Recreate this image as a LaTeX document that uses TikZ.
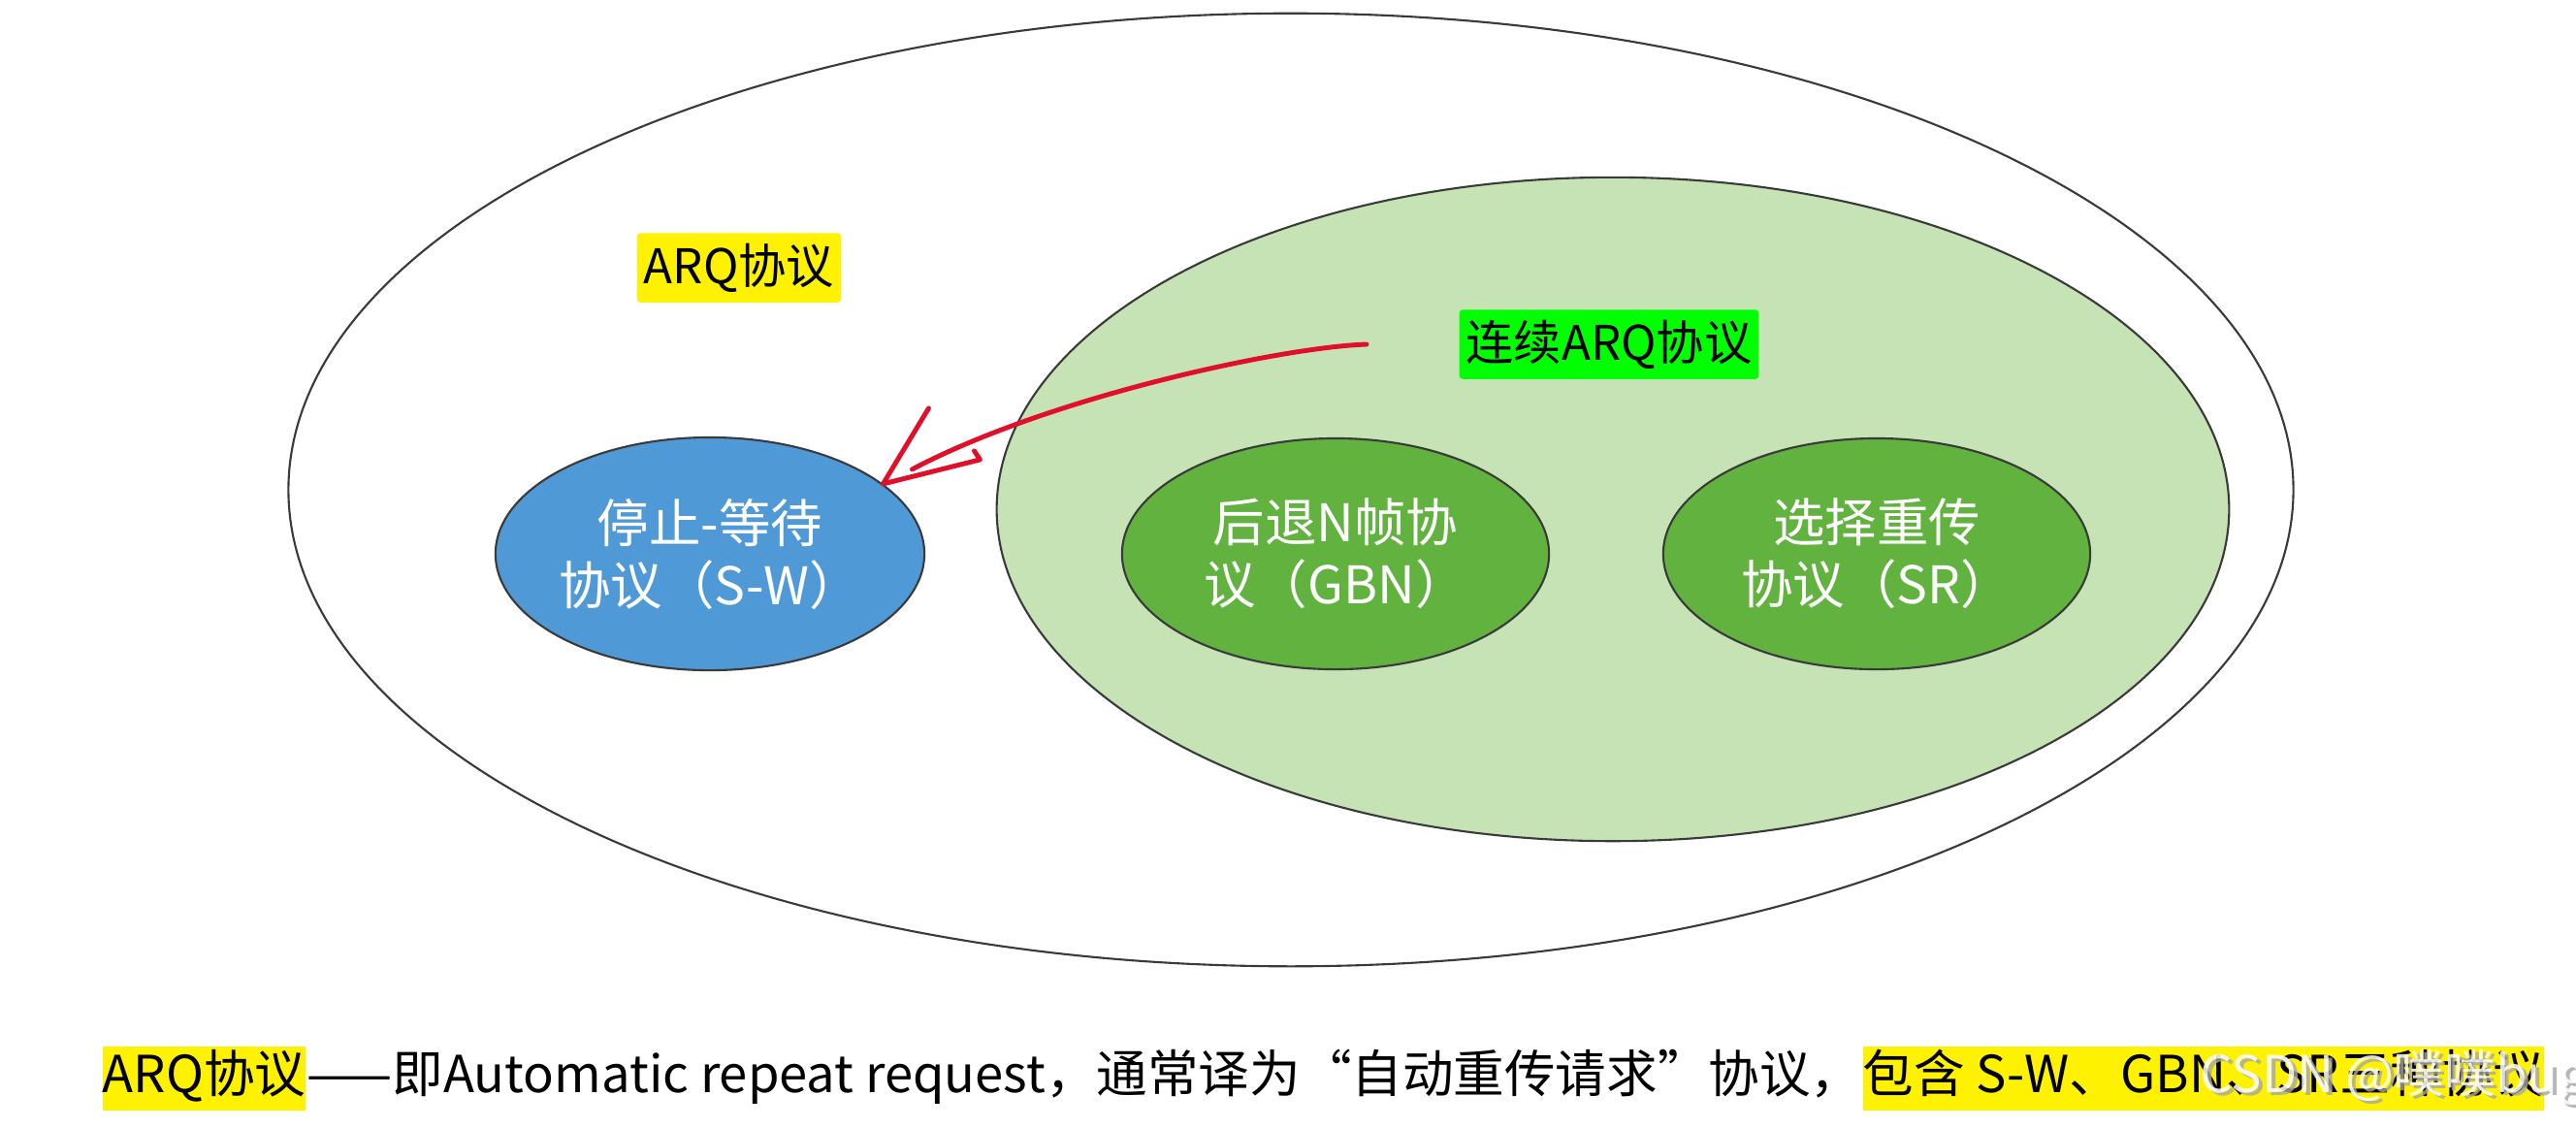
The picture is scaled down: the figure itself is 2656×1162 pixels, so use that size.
\documentclass[tikz,border=0pt]{standalone}
\usepackage{fontspec}
\setmainfont{Noto Sans CJK SC}
\usetikzlibrary{shapes.geometric}
\definecolor{swblue}{HTML}{4F9AD6}
\definecolor{lightgreen}{HTML}{C5E3B4}
\definecolor{midgreen}{HTML}{62B23F}
\definecolor{edgegray}{HTML}{3A3A3A}
\definecolor{penred}{HTML}{E0102A}
\tikzset{
  oval/.style={ellipse, draw=edgegray, line width=0.6pt, inner sep=0pt},
  inner/.style={oval, text=white, align=center, font=\fontsize{15.2}{18.2}\selectfont},
  pen/.style={draw=penred, line width=1.4pt, line cap=round, line join=round},
  tag/.style={inner xsep=2pt, inner ysep=3pt, rounded corners=1pt, font=\fontsize{14}{16}\selectfont},
  bottomtxt/.style={inner xsep=0pt, inner ysep=0pt, text height=13.5pt, text depth=5pt, anchor=west, font=\fontsize{14.95}{16}\selectfont},
}
\begin{document}
\begin{tikzpicture}[x=0.01cm,y=-0.01cm]
\useasboundingbox[fill=white] (0,0) rectangle (2656,1162);
% outer ellipse
\node[oval, minimum width=20.66cm, minimum height=9.82cm] (outer) at (1331,505) {};
% continuous ARQ ellipse
\node[oval, fill=lightgreen, minimum width=12.70cm, minimum height=6.84cm] (cont) at (1663,525) {};
% inner ellipses
\node[inner, fill=swblue, minimum width=4.42cm, minimum height=2.40cm] (sw) at (732,571) {停止-等待\\协议（S-W）};
\node[inner, fill=midgreen, minimum width=4.40cm, minimum height=2.38cm] (gbn) at (1377,571) {后退N帧协\\议（GBN）};
\node[inner, fill=midgreen, minimum width=4.40cm, minimum height=2.38cm] (sr) at (1935,571) {选择重传\\协议（SR）};
% labels
\node[tag, fill=yellow] (arq) at (762,276) {ARQ协议};
\node[tag, fill=green] (contlab) at (1659,355) {连续ARQ协议};
% red hand-drawn arrow
\coordinate (tip) at (sw.22);
\draw[pen] ([xshift=-27]contlab.west) .. controls (1320,358) and (1080,410) .. ([shift={(30,-15)}]tip);
\draw[pen] ([shift={(47,-78)}]tip) -- (tip) -- ([shift={(100,-25)}]tip) -- ++(-6,-9);
% bottom text
\node[bottomtxt, fill=yellow] (b1) at (105,1112) {ARQ协议};
\node[bottomtxt] (b2) at (b1.east) {——即Automatic repeat request，通常译为“自动重传请求”协议，};
\node[bottomtxt, fill=yellow] (b3) at (b2.east) {包含 S-W、GBN、SR三种协议};
% watermark
\node[bottomtxt, text=gray!70, opacity=0.8] (wm0) at (2272,1115) {CSDN @噗噗bug};
\node[bottomtxt, text=white, opacity=0.85] (wm) at (2268,1112) {CSDN @噗噗bug};
\end{tikzpicture}
\end{document}
